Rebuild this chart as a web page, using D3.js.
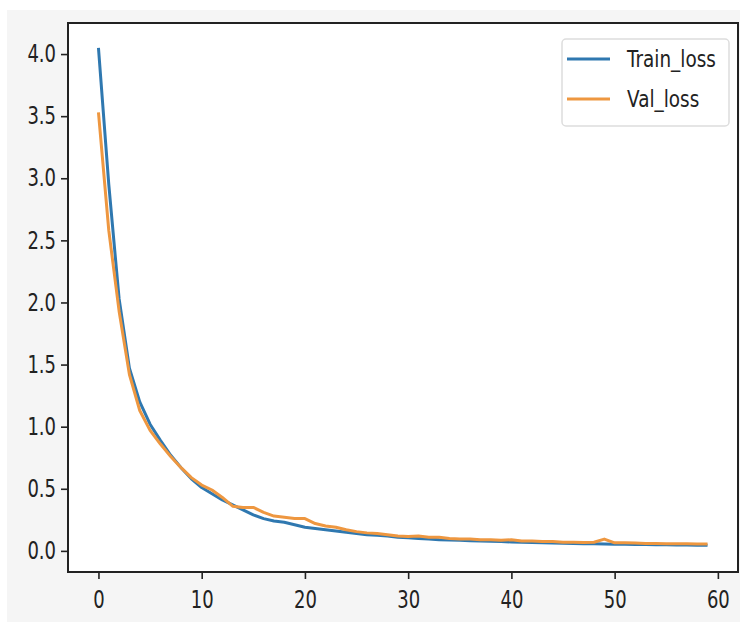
<!DOCTYPE html>
<html>
<head>
<meta charset="utf-8">
<script src="https://cdn.jsdelivr.net/npm/d3@7"></script>
<style>
  body { margin: 0; background: #fff; }
  text { font-family: "DejaVu Sans", sans-serif; fill: #222; }
</style>
</head>
<body>
<svg id="chart" width="740" height="624"></svg>
<script>
// loss values, one per epoch
const trainLoss = [4.05, 2.95, 2.03, 1.47, 1.20, 1.02, 0.89, 0.77, 0.67, 0.58,
  0.51, 0.46, 0.41, 0.37, 0.33, 0.29, 0.26, 0.24, 0.23, 0.21,
  0.19, 0.18, 0.17, 0.16, 0.15, 0.14, 0.13, 0.125, 0.12, 0.11,
  0.105, 0.10, 0.095, 0.09, 0.088, 0.085, 0.082, 0.08, 0.078, 0.075,
  0.072, 0.07, 0.068, 0.066, 0.064, 0.062, 0.06, 0.058, 0.057, 0.055,
  0.054, 0.053, 0.052, 0.051, 0.05, 0.049, 0.048, 0.047, 0.046, 0.045];
const valLoss = [3.53, 2.58, 1.93, 1.42, 1.13, 0.97, 0.86, 0.76, 0.67, 0.59,
  0.53, 0.49, 0.43, 0.36, 0.35, 0.35, 0.31, 0.28, 0.27, 0.26,
  0.26, 0.22, 0.20, 0.19, 0.17, 0.155, 0.145, 0.14, 0.13, 0.12,
  0.115, 0.12, 0.11, 0.11, 0.10, 0.095, 0.095, 0.09, 0.09, 0.085,
  0.09, 0.08, 0.08, 0.075, 0.075, 0.07, 0.07, 0.068, 0.07, 0.095,
  0.065, 0.065, 0.063, 0.06, 0.06, 0.058, 0.058, 0.057, 0.056, 0.056];
const seriesNames = ["Train_loss", "Val_loss"];
const xTicks = [0, 10, 20, 30, 40, 50, 60];
const yTicks = [0.0, 0.5, 1.0, 1.5, 2.0, 2.5, 3.0, 3.5, 4.0];

const svg = d3.select("svg#chart");
const colors = ["#2f78b0", "#ee9740"];
const sx = 0.75; // text in the picture is squeezed sideways

const box = { left: 68, right: 738, top: 23, bottom: 572 };

svg.append("rect")
  .attr("x", 7).attr("y", 10).attr("width", 733).attr("height", 612)
  .attr("fill", "#f5f5f5");
svg.append("rect")
  .attr("x", box.left).attr("y", box.top)
  .attr("width", box.right - box.left).attr("height", box.bottom - box.top)
  .attr("fill", "#fff");

const x = d3.scaleLinear().domain([-2.95, 61.95]).range([box.left, box.right]);
const y = d3.scaleLinear().domain([-0.17, 4.25]).range([box.bottom, box.top]);

// axes
const xAxis = svg.append("g")
  .attr("transform", `translate(0,${box.bottom})`)
  .call(d3.axisBottom(x).tickValues(xTicks).tickSize(7).tickPadding(6).tickFormat(d3.format("d")));
const yAxis = svg.append("g")
  .attr("transform", `translate(${box.left},0)`)
  .call(d3.axisLeft(y).tickValues(yTicks).tickSize(7).tickPadding(5).tickFormat(d3.format(".1f")));

[xAxis, yAxis].forEach(g => {
  g.select(".domain").remove();
  g.selectAll(".tick line").attr("stroke", "#222").attr("stroke-width", 1.6);
  g.selectAll(".tick text").attr("font-size", 24).attr("fill", "#222")
    .attr("font-family", "DejaVu Sans");
});
xAxis.selectAll(".tick text").attr("dy", "0.95em")
  .attr("transform", `scale(${sx},1)`)
  .attr("x", 0);
yAxis.selectAll(".tick text")
  .attr("transform", `scale(${sx},1)`)
  .attr("x", -12 / sx);

// lines
const line = d3.line().x((d, i) => x(i)).y(d => y(d));
const plot = svg.append("g");
[trainLoss, valLoss].forEach((s, k) => {
  plot.append("path")
    .datum(s)
    .attr("fill", "none")
    .attr("stroke", colors[k])
    .attr("stroke-width", 3)
    .attr("stroke-linejoin", "round")
    .attr("d", line);
});

// frame
svg.append("rect")
  .attr("x", box.left).attr("y", box.top)
  .attr("width", box.right - box.left).attr("height", box.bottom - box.top)
  .attr("fill", "none").attr("stroke", "#222").attr("stroke-width", 2);

// legend
const legend = svg.append("g").attr("transform", "translate(562,39)");
legend.append("rect")
  .attr("width", 167).attr("height", 87).attr("rx", 4)
  .attr("fill", "#fff").attr("stroke", "#ddd").attr("stroke-width", 1.5);
seriesNames.forEach((name, i) => {
  const row = legend.append("g").attr("transform", `translate(0,${20 + i * 40})`);
  row.append("line")
    .attr("x1", 5).attr("x2", 48).attr("y1", 0).attr("y2", 0)
    .attr("stroke", colors[i]).attr("stroke-width", 3);
  row.append("text")
    .attr("transform", `translate(65,0) scale(0.8,1)`)
    .attr("dy", "0.36em")
    .attr("font-size", 23)
    .text(name);
});
</script>
</body>
</html>
